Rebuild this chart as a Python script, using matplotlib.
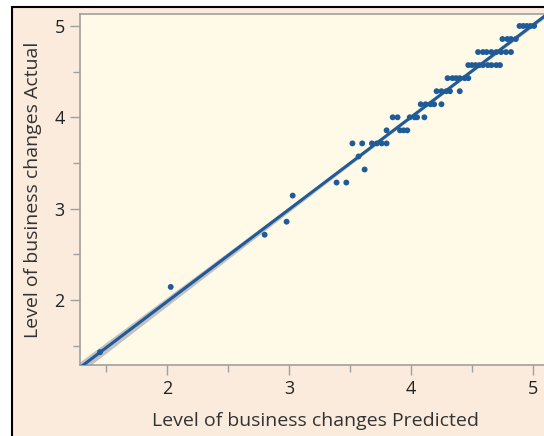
import numpy as np
import matplotlib
matplotlib.use("Agg")
import matplotlib.pyplot as plt
from matplotlib.patches import Rectangle

plt.rcParams['font.family'] = ['Open Sans', 'DejaVu Sans']

actual_k = [10, 15, 19, 20, 22, 23, 23, 24, 25,
            26, 26, 26, 26, 26, 26,
            27, 27, 27, 27,
            28, 28, 28, 28, 28, 28,
            29, 29, 29, 29, 29,
            30, 30, 30, 30, 30,
            31, 31, 31, 31, 31, 31,
            32, 32, 32, 32, 32, 32, 32, 32, 32,
            33, 33, 33, 33, 33, 33, 33, 33,
            34, 34, 34, 34,
            35, 35, 35, 35, 35]
predicted = [1.45, 2.03, 2.80, 2.98, 3.03, 3.39, 3.47, 3.62, 3.57,
             3.52, 3.60, 3.68, 3.72, 3.76, 3.80,
             3.80, 3.91, 3.94, 3.97,
             3.85, 3.89, 3.99, 4.03, 4.05, 4.11,
             4.08, 4.12, 4.16, 4.19, 4.25,
             4.21, 4.25, 4.29, 4.32, 4.40,
             4.30, 4.34, 4.37, 4.40, 4.44, 4.47,
             4.47, 4.50, 4.53, 4.56, 4.59, 4.63, 4.66, 4.70, 4.73,
             4.55, 4.59, 4.62, 4.66, 4.70, 4.74, 4.78, 4.82,
             4.75, 4.79, 4.82, 4.86,
             4.89, 4.92, 4.95, 4.98, 5.01]
actual = np.array(actual_k) / 7.0
predicted = np.array(predicted)

x_ticks = [2, 3, 4, 5]
y_ticks = [2, 3, 4, 5]

BLUE = '#1F5B98'
PEACH = '#FAEBDD'
CREAM = '#FFF9E7'
GREY = '#A0A0A0'

fig = plt.figure(figsize=(5.44, 4.36), dpi=100)
fig.patch.set_facecolor('white')
# outer frame of the report panel
fig.add_artist(Rectangle((12 / 544, -0.1), 1.2, 1 - 7 / 436 + 0.1,
                         transform=fig.transFigure, facecolor=PEACH,
                         edgecolor='black', linewidth=1.5, zorder=-10))

ax = fig.add_axes([80 / 544, 1 - 365 / 436, 470 / 544, 351 / 436])
ax.set_facecolor(CREAM)

# fit line + confidence band
b, a = np.polyfit(predicted, actual, 1)
xs = np.linspace(1.2, 5.3, 200)
n = len(predicted)
resid = actual - (a + b * predicted)
s = np.sqrt(np.sum(resid ** 2) / (n - 2))
xm = predicted.mean()
sxx = np.sum((predicted - xm) ** 2)
se = s * np.sqrt(1 / n + (xs - xm) ** 2 / sxx)
ys = a + b * xs
ax.fill_between(xs, ys - 1.3 * se, ys + 1.3 * se, color='#A8A8B0', alpha=0.7, lw=0, zorder=2)
ax.plot(xs, ys, color=BLUE, lw=2.2, zorder=3)

ax.scatter(predicted, actual, s=18, color=BLUE, edgecolors='none', zorder=4)

ax.set_xlim(1.286, 5.14)
ax.set_ylim(1.288, 5.131)
ax.set_xticks(x_ticks)
ax.set_yticks(y_ticks)
ax.set_xticks([1.5, 2.5, 3.5, 4.5], minor=True)
ax.set_yticks([1.5, 2.5, 3.5, 4.5], minor=True)
ax.tick_params(which='major', length=7, width=1, color=GREY, labelsize=13,
               labelcolor='#222222', pad=4)
ax.tick_params(which='minor', length=5, width=1, color=GREY)
for sp in ax.spines.values():
    sp.set_color(GREY)
    sp.set_linewidth(1.2)

ax.set_xlabel('Level of business changes Predicted', fontsize=14, color='#333333', labelpad=10)
ax.set_ylabel('Level of business changes Actual', fontsize=14, color='#333333', labelpad=9)

fig.savefig('out.png', dpi=100, facecolor=fig.get_facecolor())
